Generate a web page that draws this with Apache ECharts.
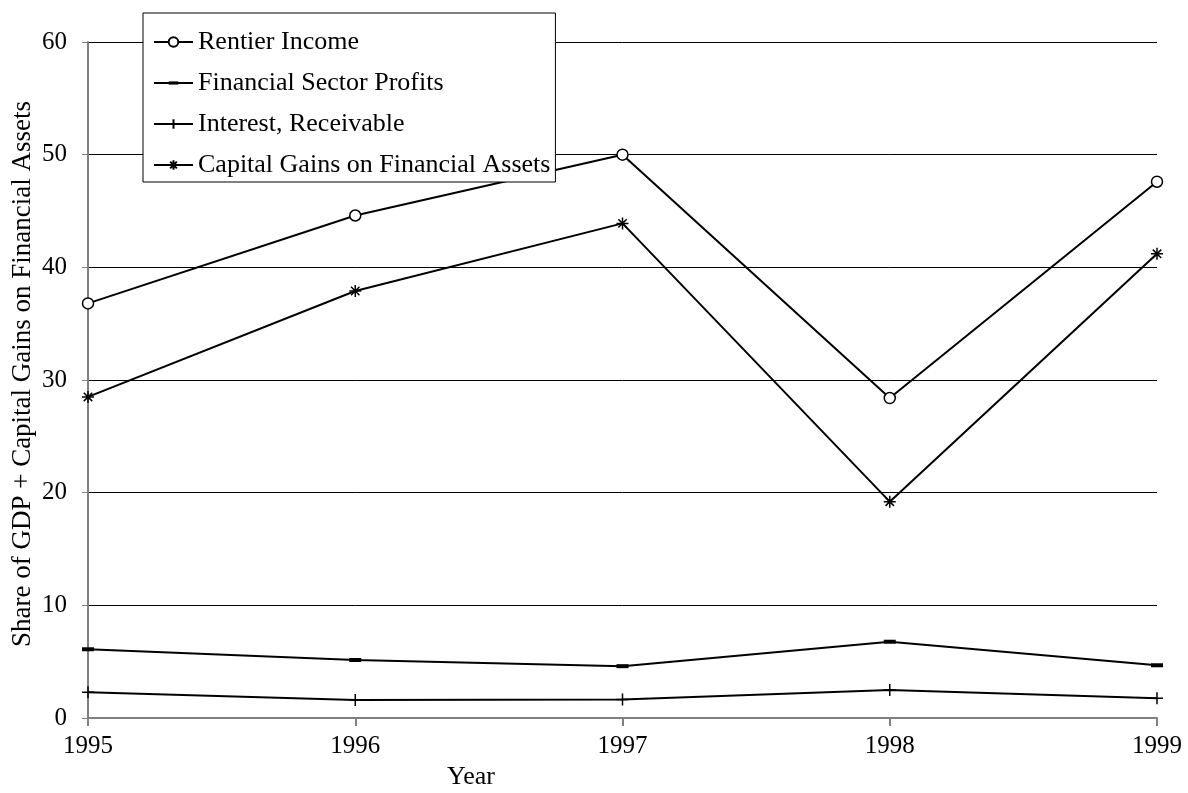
<!DOCTYPE html>
<html><head><meta charset="utf-8">
<script src="https://cdn.jsdelivr.net/npm/echarts@6/dist/echarts.min.js"></script>
<style>html,body{margin:0;padding:0;background:#fff}#c{width:1188px;height:793px}</style>
</head><body><div id="c"></div>
<script>
const years = ['1995','1996','1997','1998','1999'];
const rentierIncome = [36.8, 44.6, 50.0, 28.4, 47.6];
const financialSectorProfits = [6.1, 5.15, 4.6, 6.77, 4.68];
const interestReceivable = [2.28, 1.6, 1.65, 2.48, 1.75];
const capitalGains = [28.5, 37.9, 43.9, 19.2, 41.2];
const yTicks = {min: 0, max: 60, interval: 10};
const yAxisTitle = 'Share of GDP + Capital Gains on Financial Assets';
const xAxisTitle = 'Year';

const FONT = '"Liberation Serif", "DejaVu Serif", serif';
const dashSym = 'path://M0,4L12,4L12,8L0,8Z M6,0L6,0 M6,12L6,12';
const plusSym = 'path://M5,0L5,10M0,5L10,5';
const starSym = 'path://M5,0L5,10M0,5L10,5M1.5,1.5L8.5,8.5M8.5,1.5L1.5,8.5';

function mk(name, data, symbol, size, fill, bw) {
  return {
    name, type: 'line', data, symbol, symbolSize: size,
    showSymbol: true,
    lineStyle: {color: '#000', width: 2},
    itemStyle: {color: fill, borderColor: '#000', borderWidth: bw},
    emphasis: {disabled: true},
    animation: false
  };
}

const chart = echarts.init(document.getElementById('c'));
chart.setOption({
  animation: false,
  grid: {left: 88, right: 31, top: 42, bottom: 75, containLabel: false},
  legend: {
    orient: 'vertical', left: 143, top: 13,
    backgroundColor: '#fff', borderColor: '#000', borderWidth: 1,
    padding: [14, 5, 2, 10],
    itemWidth: 39, itemHeight: 12, itemGap: 11,
    textStyle: {fontFamily: FONT, fontSize: 26, color: '#000', lineHeight: 30},
    data: ['Rentier Income', 'Financial Sector Profits', 'Interest, Receivable', 'Capital Gains on Financial Assets']
  },
  xAxis: {
    type: 'category', data: years, boundaryGap: false,
    axisLine: {lineStyle: {color: '#808080', width: 2}},
    axisTick: {show: true, length: 8, inside: false, lineStyle: {color: '#808080', width: 2}},
    axisLabel: {fontFamily: FONT, fontSize: 25, color: '#000', margin: 16},
    splitLine: {show: false}
  },
  yAxis: {
    type: 'value', min: yTicks.min, max: yTicks.max, interval: yTicks.interval,
    axisLine: {show: true, lineStyle: {color: '#808080', width: 2}},
    axisTick: {show: true, length: 6, lineStyle: {color: '#808080', width: 1}},
    axisLabel: {fontFamily: FONT, fontSize: 25, color: '#000', margin: 21},
    splitLine: {show: true, lineStyle: {color: '#000', width: 1}}
  },
  graphic: [{
    type: 'text', x: 471, y: 764,
    style: {text: xAxisTitle, font: '26px ' + FONT, fill: '#000', textAlign: 'center', textVerticalAlign: 'top'}
  }, {
    type: 'text', x: 23, y: 374, rotation: Math.PI / 2,
    style: {text: yAxisTitle, font: '27px ' + FONT, fill: '#000', textAlign: 'center', textVerticalAlign: 'middle'}
  }],
  series: [
    mk('Rentier Income', rentierIncome, 'circle', 11, '#fff', 1.5),
    mk('Financial Sector Profits', financialSectorProfits, dashSym, 12, '#000', 0),
    mk('Interest, Receivable', interestReceivable, plusSym, 12, '#000', 1.5),
    mk('Capital Gains on Financial Assets', capitalGains, starSym, 12, '#000', 1.5)
  ]
});
</script></body></html>
